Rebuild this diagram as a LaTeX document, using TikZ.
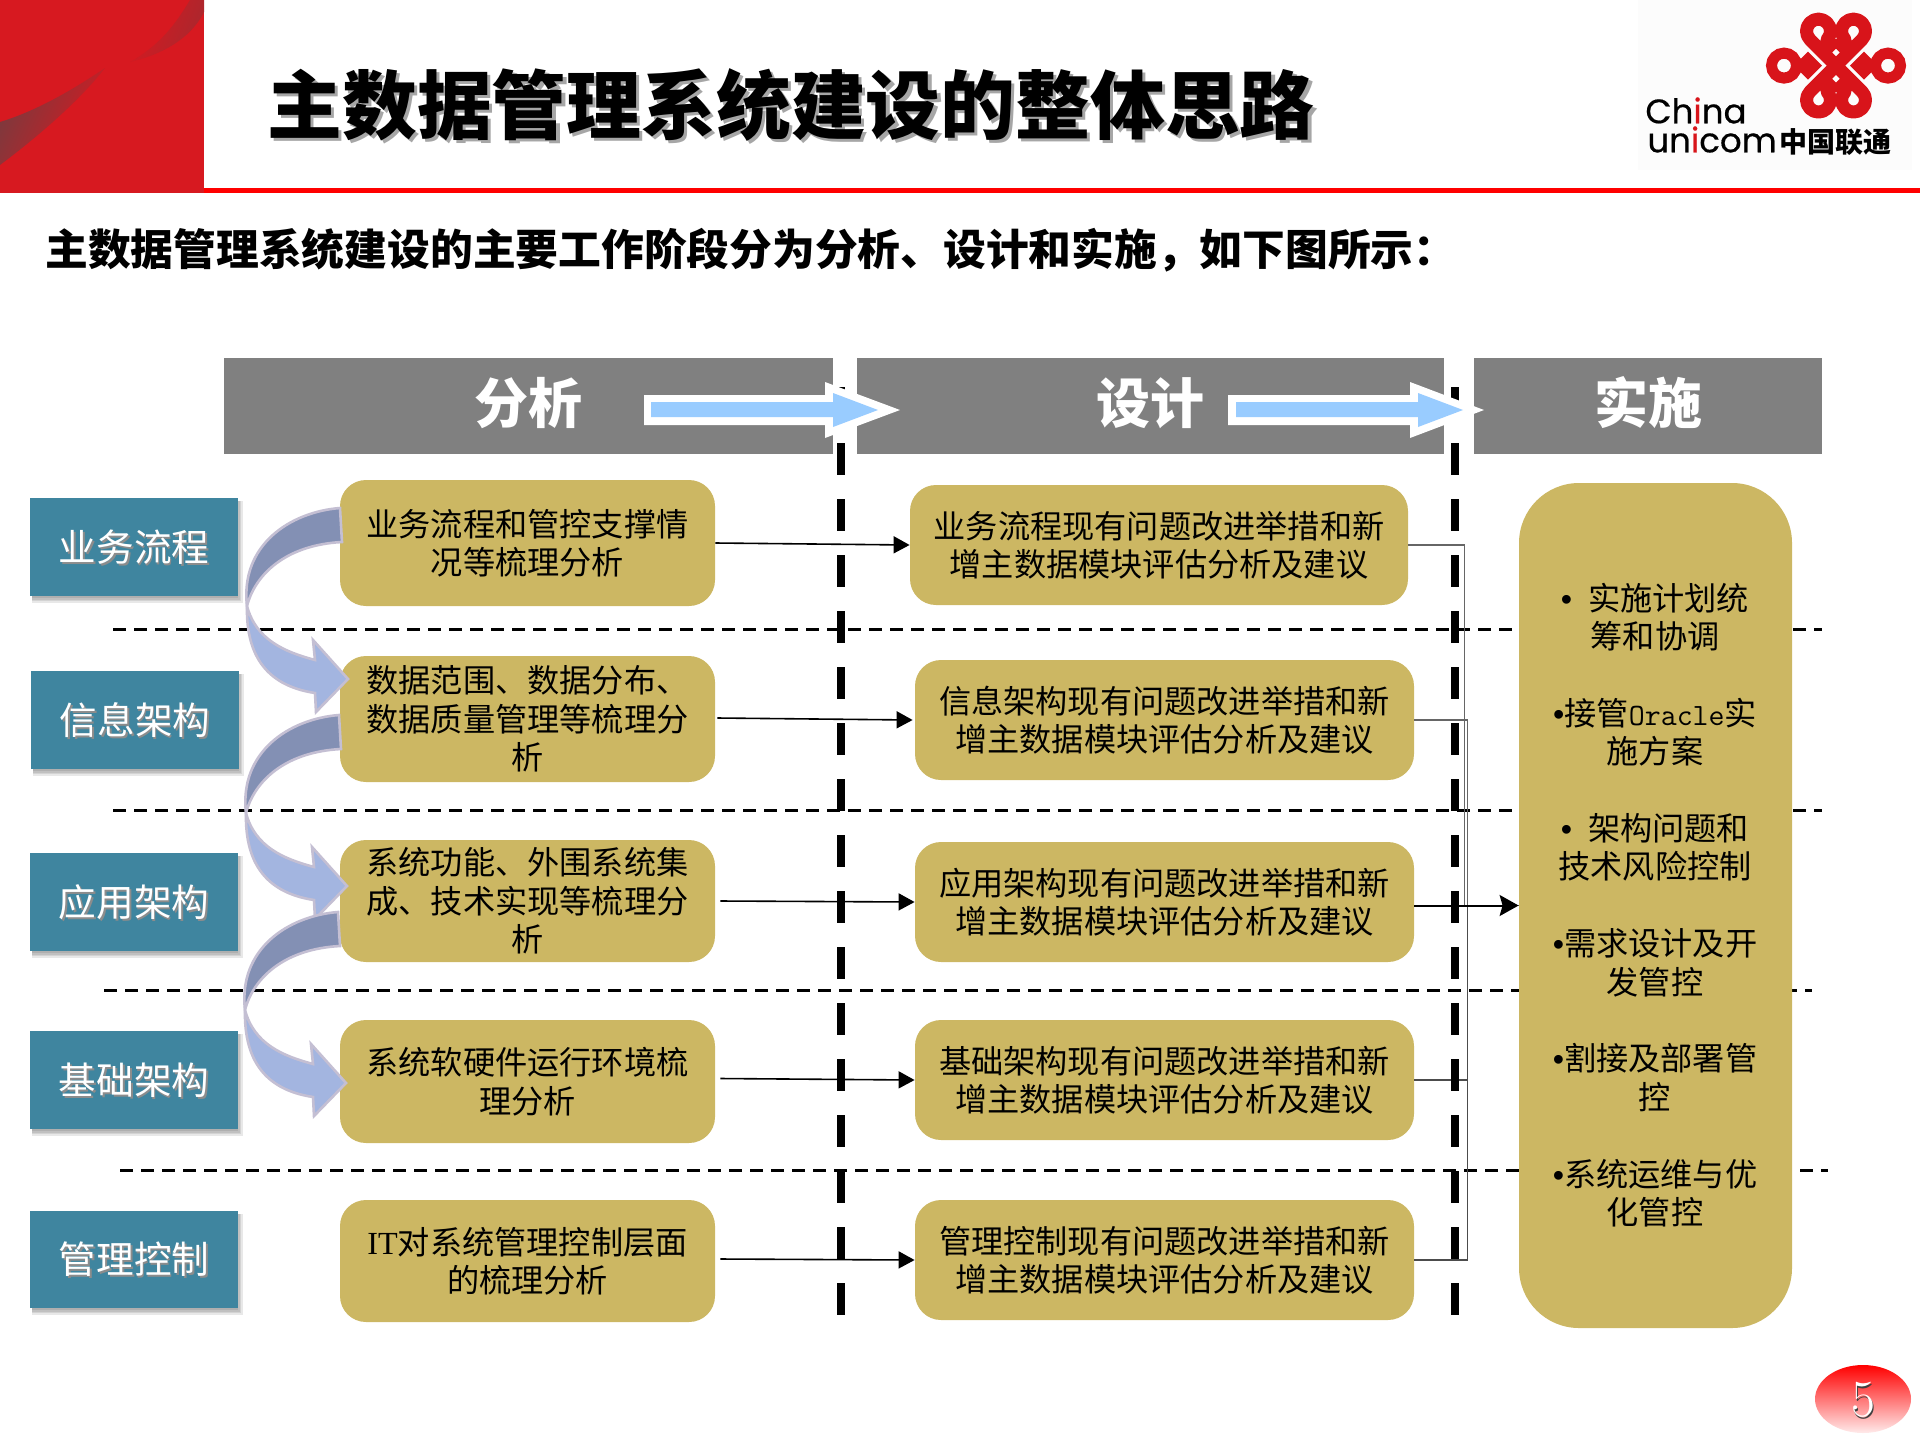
\documentclass[tikz,border=0pt]{standalone}
\usepackage{fontspec}
\usetikzlibrary{arrows.meta,shadows,calc}
\newfontfamily\cjk{Noto Sans CJK SC}
\newfontfamily\lsans{Liberation Sans}
\newfontfamily\lserif{Liberation Serif}
\newfontfamily\popp[FakeBold=0.5]{Poppins}
\definecolor{redblock}{HTML}{D71920}
\definecolor{swooshgray}{HTML}{7A3A3E}
\definecolor{swooshtop}{HTML}{A8282E}
\definecolor{hdrgray}{HTML}{808080}
\definecolor{teal1}{HTML}{3F859F}
\definecolor{gold1}{HTML}{CCB763}
\definecolor{skyb}{HTML}{99CCFF}
\definecolor{darkarr}{HTML}{8390B4}
\definecolor{lightarr}{HTML}{A3B5E0}
\definecolor{arrline}{HTML}{C4BFD3}
\definecolor{logored}{HTML}{D8141A}
\newcommand\shtext[3]{\leavevmode\rlap{\raisebox{-#1}[0pt][0pt]{\hspace{#1}\textcolor{#2}{#3}}}#3}
\newcommand\rbx[7]{\node[#6,minimum width={(#4-#2)*0.5pt},minimum height={(#5-#3)*0.5pt}] (#1) at ({(#2+#4)/2},{(#3+#5)/2}) {#7};}
\newcommand\softshadow[4]{\foreach \d in {0,1.5,3,4.5}{\fill[black,opacity=.09] ({#1+2},{#2+3}) rectangle ({#3+\d},{#4+2+\d});}}
\newcommand\curvarrow[2]{%
  \begin{scope}[shift={(#1,#2)}]
  \draw[arrow edge,fill=darkarr] (340,508) .. controls (290,512) and (240,545) .. (247,606) .. controls (255,575) and (285,545) .. (342,542) -- cycle;
  \draw[arrow edge,fill=lightarr] (247,606) .. controls (246,650) and (262,685) .. (315,693) -- (316,712) -- (348,679) -- (313,640) -- (315,660) .. controls (285,652) and (256,640) .. (247,606) -- cycle;
  \end{scope}}
\newcommand\hdrarrow[6]{% tail, inner tail, head base, inner head base, inner tip, tip
  \fill[white] (#1,395) -- (#3,395) -- (#3,382) -- (#6,410) -- (#3,438) -- (#3,425) -- (#1,425) -- cycle;
  \fill[skyb] (#2,402) -- (#4,402) -- (#4,393) -- (#5,410) -- (#4,427) -- (#4,417) -- (#2,417) -- cycle;}
\tikzset{
  hdr/.style={fill=hdrgray,inner sep=0pt,text=white,font=\cjk\bfseries\fontsize{27}{30}\selectfont},
  lbl/.style={fill=teal1,inner sep=0pt,text=white,font=\cjk\fontsize{18.8}{22}\selectfont},
  gold/.style={fill=gold1,rounded corners=13pt,inner sep=0pt,align=center,font=\cjk\fontsize{16.1}{19.2}\selectfont},
  goldbig/.style={fill=gold1,rounded corners=30pt,inner sep=0pt},
  flow/.style={line width=.8pt,black,-{Triangle[length=8pt,width=8.5pt]}},
  elbow/.style={line width=.6pt,draw=black!60},
  phase/.style={line width=4pt,black,dash pattern=on 16pt off 12pt},
  rowsep/.style={line width=1.8pt,black,dash pattern=on 6.5pt off 4pt},
  arrow edge/.style={draw=arrline,line width=1.3pt,line join=miter},
  plain/.style={inner sep=0pt,font=\cjk}
}
\begin{document}
\begin{tikzpicture}[x=0.5pt,y=-0.5pt]
\useasboundingbox (0,0) rectangle (1920,1440);
% top band
\fill[redblock] (0,0) rectangle (204,193);
\shade[left color=swooshgray,right color=redblock,shading angle=65] (0,122) .. controls (40,110) and (80,85) .. (105,68) .. controls (80,100) and (40,135) .. (0,165) -- cycle;
\shade[left color=redblock,right color=swooshtop,shading angle=70] (130,62) .. controls (160,45) and (175,25) .. (190,0) -- (204,0) -- (204,12) .. controls (190,40) and (160,55) .. (130,62) -- cycle;
\fill[red] (204,188) rectangle (1920,193);
\node[plain,anchor=west,font=\cjk\bfseries\fontsize{37.4}{40}\selectfont] (title) at (267,105) {\shtext{1.6pt}{black!35}{主数据管理系统建设的整体思路}};
\node[plain,anchor=west,font=\cjk\bfseries\fontsize{21.38}{24}\selectfont] (sub) at (45,250) {主数据管理系统建设的主要工作阶段分为分析、设计和实施，如下图所示：};
% logo
\fill[black!1] (1638,0) rectangle (1912,170);
\begin{scope}[shift={(1836,65.6)},yscale=-1]
  \foreach \sx in {1,-1} \foreach \sy in {1,-1} {
    \begin{scope}[xscale=\sx,yscale=\sy]
      \draw[logored,line width=6.5pt,line join=round] (0,0) -- (26,26) arc (-45:225:12) -- (0,17);
    \end{scope}}
  \foreach \sx in {1,-1} {
    \begin{scope}[xscale=\sx]
      \draw[logored,line width=5.5pt] (52,0) circle (12.5);
      \fill[logored] (14,0) -- (28,-14) -- (42,0) -- (28,14) -- cycle;
    \end{scope}}
\end{scope}
\node[plain,anchor=west,align=left,font=\popp\fontsize{17}{14.5}\selectfont] (china) at (1645,125) {Ch\textcolor{logored}{i}na\\\hspace{1pt}un\textcolor{logored}{i}com};
\node[plain,anchor=west,font=\cjk\bfseries\fontsize{14}{16}\selectfont] (cu) at (1779.5,142) {中国联通};
% row separators
\coordinate (s1a) at (113,629.5); \coordinate (s1b) at (1822,629.5);
\coordinate (s2a) at (113,810.5); \coordinate (s2b) at (1822,810.5);
\coordinate (s3a) at (104,990.5); \coordinate (s3b) at (1812,990.5);
\coordinate (s4a) at (120,1170.5); \coordinate (s4b) at (1828,1170.5);
\draw[rowsep] (s1a) -- (s1b);
\draw[rowsep] (s2a) -- (s2b);
\draw[rowsep] (s3a) -- (s3b);
\draw[rowsep] (s4a) -- (s4b);
% headers
\rbx{h1}{224}{357.5}{833}{454}{hdr}{\raisebox{5.5pt}{分析}}
\rbx{h2}{857}{357.5}{1444}{454}{hdr}{\raisebox{5.5pt}{设计}}
\rbx{h3}{1474}{357.5}{1822}{454}{hdr}{\raisebox{5.5pt}{实施}}
% labels
\softshadow{30}{498}{238}{596}
\softshadow{31}{671}{239}{769}
\softshadow{30}{853}{238}{951}
\softshadow{30}{1031}{238}{1129}
\softshadow{30}{1211}{238}{1308}
\rbx{l1}{30}{498}{238}{596}{lbl}{\shtext{.9pt}{black!45}{业务流程}}
\rbx{l2}{31}{671}{239}{769}{lbl}{\shtext{.9pt}{black!45}{信息架构}}
\rbx{l3}{30}{853}{238}{951}{lbl}{\shtext{.9pt}{black!45}{应用架构}}
\rbx{l4}{30}{1031}{238}{1129}{lbl}{\shtext{.9pt}{black!45}{基础架构}}
\rbx{l5}{30}{1211}{238}{1308}{lbl}{\shtext{.9pt}{black!45}{管理控制}}
% analysis boxes
\rbx{a1}{340}{480}{715}{606}{gold}{业务流程和管控支撑情\\况等梳理分析}
\rbx{a2}{340}{656}{715}{782}{gold}{数据范围、数据分布、\\数据质量管理等梳理分\\析}
\rbx{a3}{340}{840}{715}{962}{gold}{系统功能、外围系统集\\成、技术实现等梳理分\\析}
\rbx{a4}{340}{1020}{715}{1143}{gold}{系统软硬件运行环境梳\\理分析}
\rbx{a5}{340}{1200}{715}{1322}{gold}{{\lserif IT}对系统管理控制层面\\的梳理分析}
% design boxes
\rbx{d1}{910}{485}{1408}{605}{gold}{业务流程现有问题改进举措和新\\增主数据模块评估分析及建议}
\rbx{d2}{915}{660}{1414}{780}{gold}{信息架构现有问题改进举措和新\\增主数据模块评估分析及建议}
\rbx{d3}{915}{842}{1414}{962}{gold}{应用架构现有问题改进举措和新\\增主数据模块评估分析及建议}
\rbx{d4}{915}{1020}{1414}{1140}{gold}{基础架构现有问题改进举措和新\\增主数据模块评估分析及建议}
\rbx{d5}{915}{1200}{1414}{1320}{gold}{管理控制现有问题改进举措和新\\增主数据模块评估分析及建议}
% implementation box
\rbx{r}{1519}{483}{1792}{1328}{goldbig}{}
\node[plain,align=center,font=\cjk\fontsize{16.1}{19.2}\selectfont] (rtext) at (1655,905) {%
{\lsans•}\hspace{8pt}实施计划统\\筹和协调\\[19.2pt]
{\lsans•}接管{\ttfamily\fontsize{15.5}{19.2}\selectfont Oracle}实\\施方案\\[19.2pt]
{\lsans•}\hspace{8pt}架构问题和\\技术风险控制\\[19.2pt]
{\lsans•}需求设计及开\\发管控\\[19.2pt]
{\lsans•}割接及部署管\\控\\[19.2pt]
{\lsans•}系统运维与优\\化管控};
% flows
\draw[flow] (a1.east) -- (d1.west);
\draw[flow] ([xshift=1pt,yshift=.5pt]a2.east) -- ([xshift=-1pt]d2.west);
\draw[flow] ([xshift=2.5pt]a3.east) -- (d3.west);
\draw[flow] ([xshift=2.5pt,yshift=1.5pt]a4.east) -- (d4.west);
\draw[flow] ([xshift=2.5pt,yshift=1pt]a5.east) -- (d5.west);
% merge connectors
\coordinate (busa) at (1464.5,905.5);
\coordinate (busb) at (1467.5,905.5);
\draw[elbow] (d1.east) -| (busa) -- (r.west);
\draw[elbow] (d2.east) -| (busb) -- (r.west);
\draw[elbow,draw=black!70] (d4.east) -| (busb);
\draw[elbow,draw=black!70] (d5.east) -| (busb);
\draw[line width=1pt,black,-{Stealth[length=9.5pt,width=10.5pt,inset=1.5pt]}] (d3.east |- r.west) -- (r.west);
% phase separators
\coordinate (p1a) at (841,387); \coordinate (p1b) at (841,1315);
\coordinate (p2a) at (1455,387); \coordinate (p2b) at (1455,1315);
\draw[phase] (p1a) -- (p1b);
\draw[phase] (p2a) -- (p2b);
% header arrows
\hdrarrow{644}{651}{825}{833}{878}{900}
\hdrarrow{1228}{1236}{1410}{1418}{1463}{1484}
% curved arrows
\curvarrow{0}{0}
\curvarrow{-1}{207}
\curvarrow{-2}{404}
% page number
\shade[top color=red,bottom color=red!8!white] (1863,1399) ellipse (48 and 34);
\node[inner sep=0pt,text=white,font=\fontsize{26}{28}\selectfont] (pg) at (1863,1400) {\shtext{.8pt}{black!75}{5}};
\end{tikzpicture}
\end{document}
